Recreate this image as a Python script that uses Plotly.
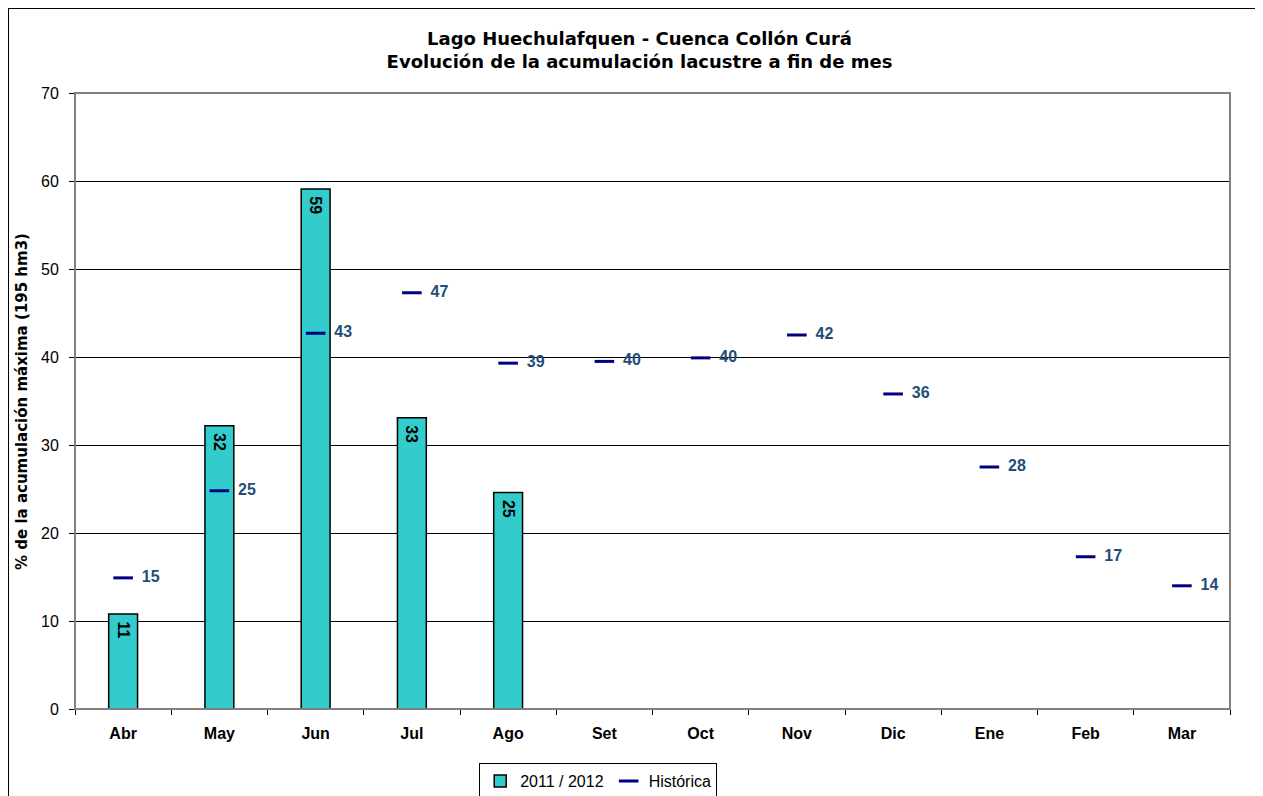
import plotly.graph_objects as go

# Data
meses = ['Abr', 'May', 'Jun', 'Jul', 'Ago', 'Set', 'Oct', 'Nov', 'Dic', 'Ene', 'Feb', 'Mar']
acum_2011_2012 = [10.8, 32.2, 59.1, 33.1, 24.6, None, None, None, None, None, None, None]
historica = [14.9, 24.8, 42.7, 47.3, 39.3, 39.5, 39.9, 42.5, 35.8, 27.5, 17.3, 14.0]

FONT = 'Arial, Liberation Sans, sans-serif'
WIDE_FONT = 'DejaVu Sans, Arial, sans-serif'

fig = go.Figure()

fig.add_trace(go.Bar(
    x=meses,
    y=acum_2011_2012,
    name='2011 / 2012',
    width=0.3,
    marker=dict(color='#33CCCC', line=dict(color='black', width=1.5)),
    text=[f' {v:.0f}' if v is not None else '' for v in acum_2011_2012],
    textposition='inside',
    insidetextanchor='end',
    textangle=90,
    textfont=dict(family=FONT, size=16, color='black', weight='bold'),
    cliponaxis=False,
))

fig.add_trace(go.Scatter(
    x=meses,
    y=historica,
    name='Histórica',
    mode='markers+text',
    marker=dict(symbol='line-ew', size=14, line=dict(color='#000080', width=3)),
    text=[f'  {v:.0f}' for v in historica],
    textposition='middle right',
    textfont=dict(family=FONT, size=16, color='#1F4E79', weight='bold'),
    cliponaxis=False,
))

# the page body adds an 8px offset, so margins are shifted accordingly
fig.update_layout(
    width=1263,
    height=796,
    paper_bgcolor='white',
    plot_bgcolor='white',
    font=dict(family=FONT, size=14, color='black'),
    title=dict(
        text='<b>Lago Huechulafquen - Cuenca Collón Curá<br>Evolución de la acumulación lacustre a fin de mes</b>',
        x=0.5, xanchor='center', y=0.954, yanchor='middle',
        font=dict(family=WIDE_FONT, size=18, color='black'),
    ),
    margin=dict(l=67, r=41, t=85, b=95, autoexpand=False),
    uniformtext=dict(minsize=16, mode='show'),
    showlegend=True,
    legend=dict(
        orientation='h',
        x=0.453, xanchor='center',
        y=-0.088, yanchor='top',
        bordercolor='black', borderwidth=1,
        font=dict(family=FONT, size=16, color='black'),
        itemwidth=30,
        tracegroupgap=0,
    ),
    xaxis=dict(
        range=[-0.5, len(meses) - 0.5],
        showgrid=False,
        showline=True, linecolor='black', linewidth=1,
        ticks='outside', tickson='boundaries', ticklen=5, tickcolor='black',
        ticklabelstandoff=10,
        tickfont=dict(family=FONT, size=16, weight='bold'),
        automargin=False,
    ),
    yaxis=dict(
        range=[0, 70], dtick=10,
        showgrid=True, gridcolor='black', gridwidth=1,
        showline=True, linecolor='black', linewidth=1,
        ticks='outside', ticklen=5, tickcolor='black',
        ticklabelstandoff=7,
        tickfont=dict(family=FONT, size=16),
        zeroline=False,
        automargin=False,
    ),
    annotations=[
        dict(text='<b>% de la acumulación máxima (195 hm3)</b>', textangle=-90,
             xref='paper', yref='paper', x=-0.0459, y=0.5, xanchor='center', yanchor='middle',
             showarrow=False, font=dict(family=WIDE_FONT, size=15, color='black')),
    ],
    shapes=[
        # gray plot-area border
        dict(type='rect', xref='paper', yref='paper', x0=0, x1=1, y0=0, y1=1,
             line=dict(color='#808080', width=2), layer='above'),
        # outer chart border
        dict(type='rect', xref='paper', yref='paper', x0=-0.058, x1=1.024, y0=-0.2, y1=1.138,
             line=dict(color='black', width=2), layer='below'),
    ],
)

fig.write_html('out.html')
